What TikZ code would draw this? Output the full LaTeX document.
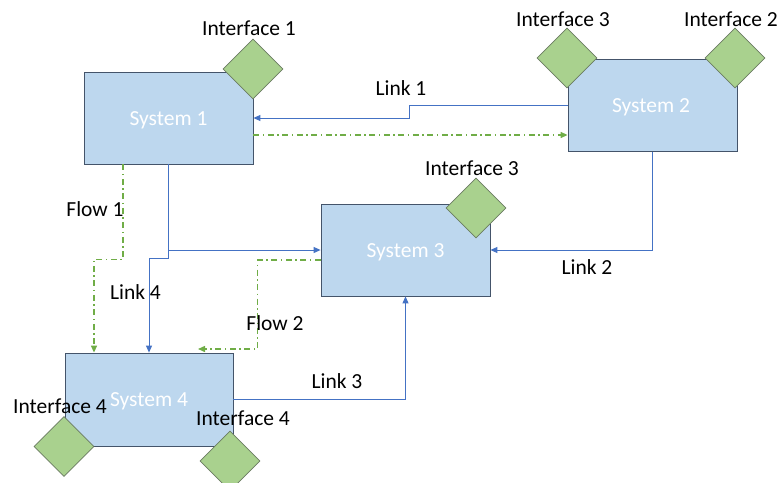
\documentclass[tikz,border=0pt]{standalone}
\usepackage{fontspec}
\setmainfont{Carlito}
\usetikzlibrary{shapes.geometric,arrows.meta}
\definecolor{boxfill}{HTML}{BDD7EE}
\definecolor{boxline}{HTML}{44546A}
\definecolor{difill}{HTML}{A9D18E}
\definecolor{diline}{HTML}{6A7B62}
\definecolor{linkc}{HTML}{4472C4}
\definecolor{flowc}{HTML}{70AD47}
\tikzset{
  sysbox/.style={draw=boxline, fill=boxfill, line width=0.8pt, minimum width=169pt, minimum height=92pt, inner sep=0pt},
  syslbl/.style={anchor=base, font=\fontsize{21.5}{24}\selectfont, text=white, inner sep=0pt},
  iface/.style={diamond, aspect=1, draw=diline, fill=difill, line width=0.8pt, minimum size=60pt, inner sep=0pt},
  lbl/.style={anchor=base, font=\fontsize{21.5}{24}\selectfont, text=black, inner sep=0pt},
  link/.style={draw=linkc, line width=0.9pt, -{Triangle[length=7pt,width=6pt]}},
  flow/.style={draw=flowc, line width=1.4pt, dash pattern=on 6pt off 3.5pt on 1.5pt off 3.5pt, -{Triangle[length=7pt,width=6pt]}}
}
\begin{document}
\begin{tikzpicture}[x=1pt,y=-1pt]
\useasboundingbox (0,0) rectangle (781,482);
% systems
\node[sysbox] (s1) at (168.5,118) {};
\node[sysbox] (s2) at (652.5,105.5) {};
\node[sysbox] (s3) at (405.5,250) {};
\node[sysbox, minimum width=168pt, minimum height=93pt] (s4) at (149,399.5) {};
\node[syslbl] (t1) at (168.5,125.5) {System 1};
\node[syslbl] (t2) at (651,112.5) {System 2};
\node[syslbl] (t3) at (405.5,257) {System 3};
\node[syslbl] (t4) at (149,406.5) {System 4};
% connectors
\coordinate (f2end) at (198,349);
\draw[link] (s2.west) -- ++(-158,0) |- (s1.east);
\draw[flow] ([yshift=-17pt]s1.east) -- ([yshift=-17pt]s1.east -| s2.west);
\draw[link] (s2.south) |- (s3.east);
\draw[link] (s1.south) |- (s3.west);
\draw[link] (s1.south) -- ++(0,94) -| (s4.north);
\draw[flow] ([xshift=-45.5pt]s1.south) -- ++(0,95) -| ([xshift=-55pt]s4.north);
\draw[flow] ([yshift=-10pt]s3.west) -- ++(-63,0) |- (f2end);
\draw[link] (s4.east) -| (s3.south);
% interfaces
\node[iface] (i1) at (253,69) {};
\node[iface] (i3a) at (567,58) {};
\node[iface] (i2) at (735,58) {};
\node[iface] (i3b) at (476,208) {};
\node[iface] (i4a) at (64,446.5) {};
\node[iface] (i4b) at (230,461) {};
% labels
\node[lbl] (l1) at (249,35.5) {Interface 1};
\node[lbl] (l2) at (563,26.5) {Interface 3};
\node[lbl] (l3) at (731,26.5) {Interface 2};
\node[lbl] (l4) at (472,175.5) {Interface 3};
\node[lbl] (l5) at (60,413.5) {Interface 4};
\node[lbl] (l6) at (243,425.5) {Interface 4};
\node[lbl] (k1) at (401,95.5) {Link 1};
\node[lbl] (k2) at (587,274.5) {Link 2};
\node[lbl] (k3) at (337,388.5) {Link 3};
\node[lbl] (k4) at (135.5,299.5) {Link 4};
\node[lbl] (fl1) at (95,216.5) {Flow 1};
\node[lbl] (fl2) at (275,330.5) {Flow 2};
\end{tikzpicture}
\end{document}
